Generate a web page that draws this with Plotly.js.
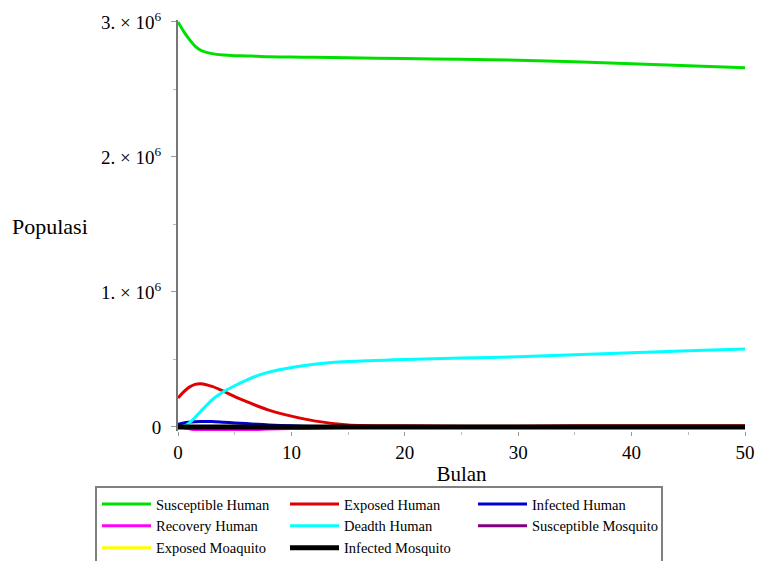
<!DOCTYPE html>
<html><head><meta charset="utf-8">
<script src="https://cdn.plot.ly/plotly-3.0.1.min.js"></script>
<style>body{margin:0;background:#fff}#c{width:757px;height:561px}</style>
</head><body><div id="c"></div>
<script>
const bulan = [0,0.5,1,1.5,2,3,4,5,6,7,8,10,12,15,20,25,30,35,40,45,50];
const susceptibleHuman = [3.0e6,2.93e6,2.87e6,2.82e6,2.79e6,2.765e6,2.755e6,2.75e6,2.748e6,2.745e6,2.742e6,2.74e6,2.738e6,2.735e6,2.728e6,2.724e6,2.716e6,2.705e6,2.69e6,2.675e6,2.66e6];
const exposedHuman = [0.215e6,0.26e6,0.295e6,0.315e6,0.32e6,0.30e6,0.265e6,0.225e6,0.19e6,0.155e6,0.125e6,0.08e6,0.045e6,0.015e6,0.008e6,0.006e6,0.006e6,0.008e6,0.008e6,0.008e6,0.008e6];
const infectedHuman = [0.02e6,0.03e6,0.035e6,0.038e6,0.04e6,0.04e6,0.035e6,0.03e6,0.025e6,0.02e6,0.015e6,0.008e6,0.004e6,0.002e6,0.001e6,0.001e6,0.001e6,0.001e6,0.001e6,0.001e6,0.001e6];
const recoveryHuman = [0,-0.006e6,-0.014e6,-0.02e6,-0.022e6,-0.022e6,-0.022e6,-0.022e6,-0.021e6,-0.019e6,-0.015e6,-0.012e6,-0.01e6,-0.004e6,0,0,0,0,0,0,0];
const deathHuman = [0,0.005e6,0.03e6,0.07e6,0.115e6,0.2e6,0.26e6,0.305e6,0.345e6,0.38e6,0.405e6,0.44e6,0.465e6,0.485e6,0.5e6,0.51e6,0.52e6,0.535e6,0.55e6,0.565e6,0.578e6];
const susceptibleMosquito = bulan.map(() => 0);
const exposedMosquito = bulan.map(() => 0);
const infectedMosquito = bulan.map(() => 0);
const xTickVals = [0,10,20,30,40,50];
const yTickVals = [0,1e6,2e6,3e6];
const yTickText = ["0","1. × 10<sup>6</sup>","2. × 10<sup>6</sup>","3. × 10<sup>6</sup>"];

const series = [
  ["Susceptible Human", susceptibleHuman, "#00e000", 3],
  ["Exposed Human", exposedHuman, "#e00000", 3],
  ["Infected Human", infectedHuman, "#0000d0", 3],
  ["Recovery Human", recoveryHuman, "#ff00ff", 3],
  ["Deadth Human", deathHuman, "#00ffff", 3],
  ["Susceptible Mosquito", susceptibleMosquito, "#800080", 3],
  ["Exposed Moaquito", exposedMosquito, "#ffff00", 3],
  ["Infected Mosquito", infectedMosquito, "#000000", 5]
];
const traces = series.map(s => ({
  x: bulan, y: s[1], name: s[0], type: 'scatter', mode: 'lines',
  line: {color: s[2], width: s[3], shape: 'spline', smoothing: 0.6}
}));
const fam = '"Liberation Serif", "Times New Roman", serif';
const layout = {
  width: 757, height: 561,
  margin: {l: 178, r: 12, t: 20, b: 130},
  paper_bgcolor: '#fff', plot_bgcolor: '#fff',
  font: {family: fam, color: '#000', size: 19},
  showlegend: true,
  legend: {
    orientation: 'h', xref: 'container', yref: 'container',
    x: 95/757, xanchor: 'left', y: 1 - 486/561, yanchor: 'top',
    entrywidth: 124, bordercolor: '#808080', borderwidth: 2,
    font: {family: fam, size: 14.5, color: '#000'},
    tracegroupgap: 0, itemwidth: 49
  },
  xaxis: {
    range: [0, 50], showgrid: false, zeroline: false,
    showline: false,
    ticks: 'outside', ticklen: 4, tickcolor: '#999',
    tickvals: xTickVals,
    minor: {tickvals: [5,15,25,35,45], ticks: 'outside', ticklen: 3, tickcolor: '#bbb'},
    tickfont: {size: 19}, title: {text: 'Bulan', font: {size: 21}, standoff: 6}
  },
  yaxis: {
    range: [-0.03e6, 3.014e6], showgrid: false, zeroline: false,
    showline: true, linecolor: '#777', linewidth: 2,
    ticks: 'outside', ticklen: 5, tickcolor: '#999',
    tickvals: yTickVals, ticktext: yTickText, ticklabelstandoff: 6,
    minor: {tickvals: [0.5e6,1.5e6,2.5e6], ticks: 'outside', ticklen: 3, tickcolor: '#bbb'},
    tickfont: {size: 19}
  },
  annotations: [{
    text: 'Populasi', xref: 'paper', yref: 'paper', x: (50-178)/567, y: (431-226)/411,
    xanchor: 'center', yanchor: 'middle', showarrow: false, font: {size: 22}
  }]
};
Plotly.newPlot('c', traces, layout, {displayModeBar: false, staticPlot: true});
</script></body></html>
